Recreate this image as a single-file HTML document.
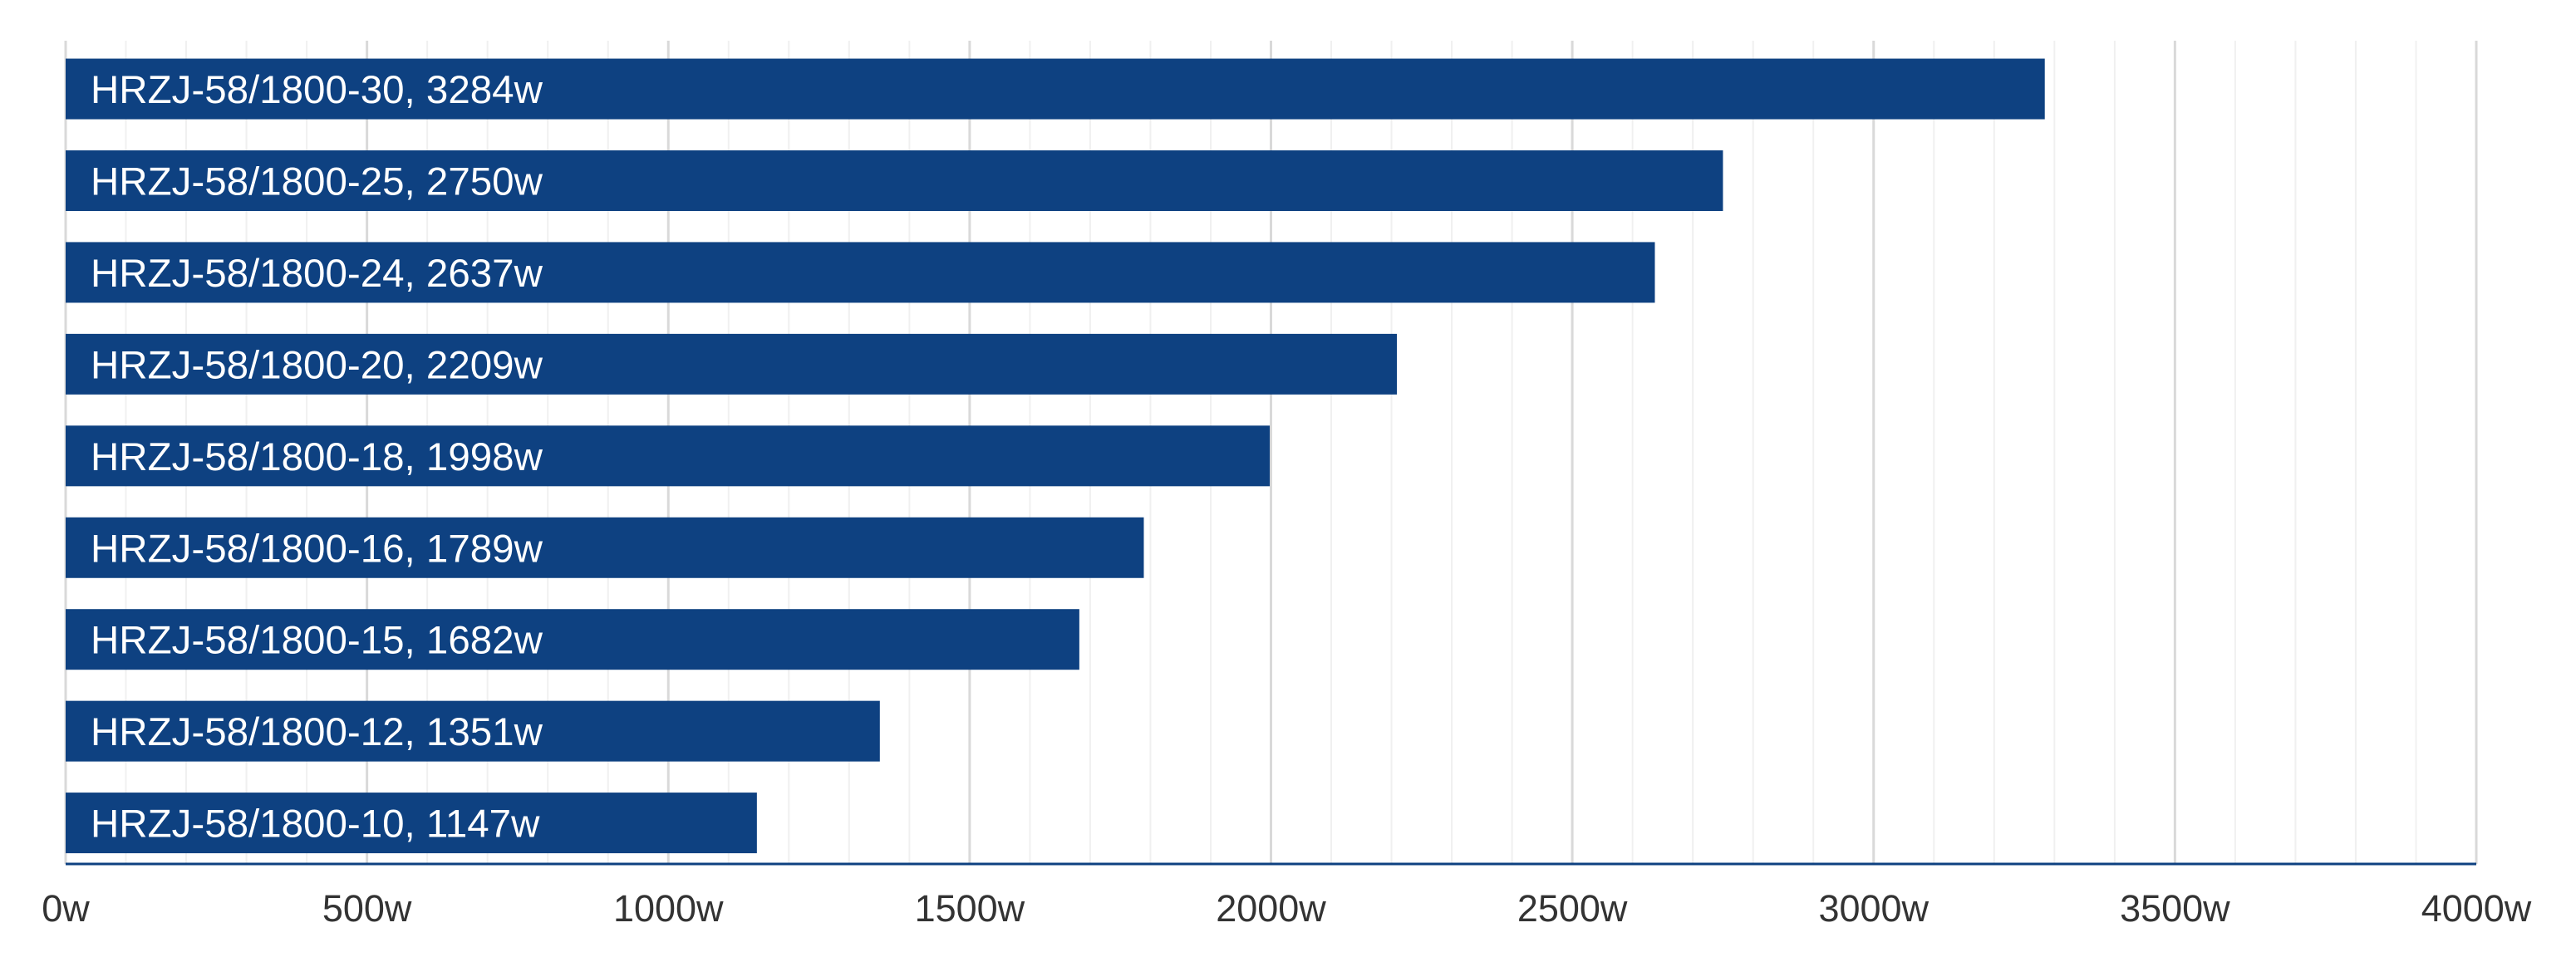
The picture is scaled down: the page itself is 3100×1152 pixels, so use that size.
<!DOCTYPE html>
<html><head><meta charset="utf-8"><style>
html,body{margin:0;padding:0;background:#fff;}
svg{display:block;font-family:"Liberation Sans",sans-serif;}
</style></head><body>
<svg id="chart" width="3100" height="1152" viewBox="0 0 3100 1152" xmlns="http://www.w3.org/2000/svg">
<g id="grid"></g>
<g id="bars"></g>
<g id="ticks"></g>
</svg>
<script>
const categories = ["HRZJ-58/1800-30","HRZJ-58/1800-25","HRZJ-58/1800-24","HRZJ-58/1800-20","HRZJ-58/1800-18","HRZJ-58/1800-16","HRZJ-58/1800-15","HRZJ-58/1800-12","HRZJ-58/1800-10"];
const values = [3284,2750,2637,2209,1998,1789,1682,1351,1147];
const tickValues = [0,500,1000,1500,2000,2500,3000,3500,4000];
const tickLabels = ["0w","500w","1000w","1500w","2000w","2500w","3000w","3500w","4000w"];

const NS="http://www.w3.org/2000/svg";
const X0=79,X1=2980,XMAX=4000,TOP=49,BOT=1040;
const x=v=>X0+(X1-X0)*v/XMAX;
const band=(BOT-TOP)/categories.length;
const barH=73;
const y=i=>TOP+3+band*i*1.003+(band-barH)/2;
function mk(t,a,p){const e=document.createElementNS(NS,t);for(const k in a)e.setAttribute(k,a[k]);p.appendChild(e);return e;}
const grid=document.getElementById('grid'),bars=document.getElementById('bars'),ticks=document.getElementById('ticks');
for(let v=0;v<=XMAX;v+=100){
  const major=v%500===0;
  const l=mk('line',{x1:x(v),x2:x(v),y1:TOP,y2:BOT,stroke:major?'#d9d9d9':'#f0f0f0','stroke-width':major?3:2},grid);
  
  
}
categories.forEach((c,i)=>{
  const r=mk('rect',{x:X0,y:y(i),width:x(values[i])-X0,height:barH,fill:'#0e4181'},bars);
  
  
  const t=mk('text',{x:X0+30,y:y(i)+barH/2+17,fill:'#fff','font-size':47.5},bars);
  
  
  t.textContent=c+', '+values[i]+'w';
});
const ax=mk('line',{x1:X0,x2:X1,y1:BOT,y2:BOT,stroke:'#0e4181','stroke-width':3},ticks);


tickValues.forEach((v,i)=>{
  const t=mk('text',{x:x(v),y:1109,fill:'#333','font-size':45,'text-anchor':'middle'},ticks);
  
  
  t.textContent=tickLabels[i];
});
</script>
</body></html>
